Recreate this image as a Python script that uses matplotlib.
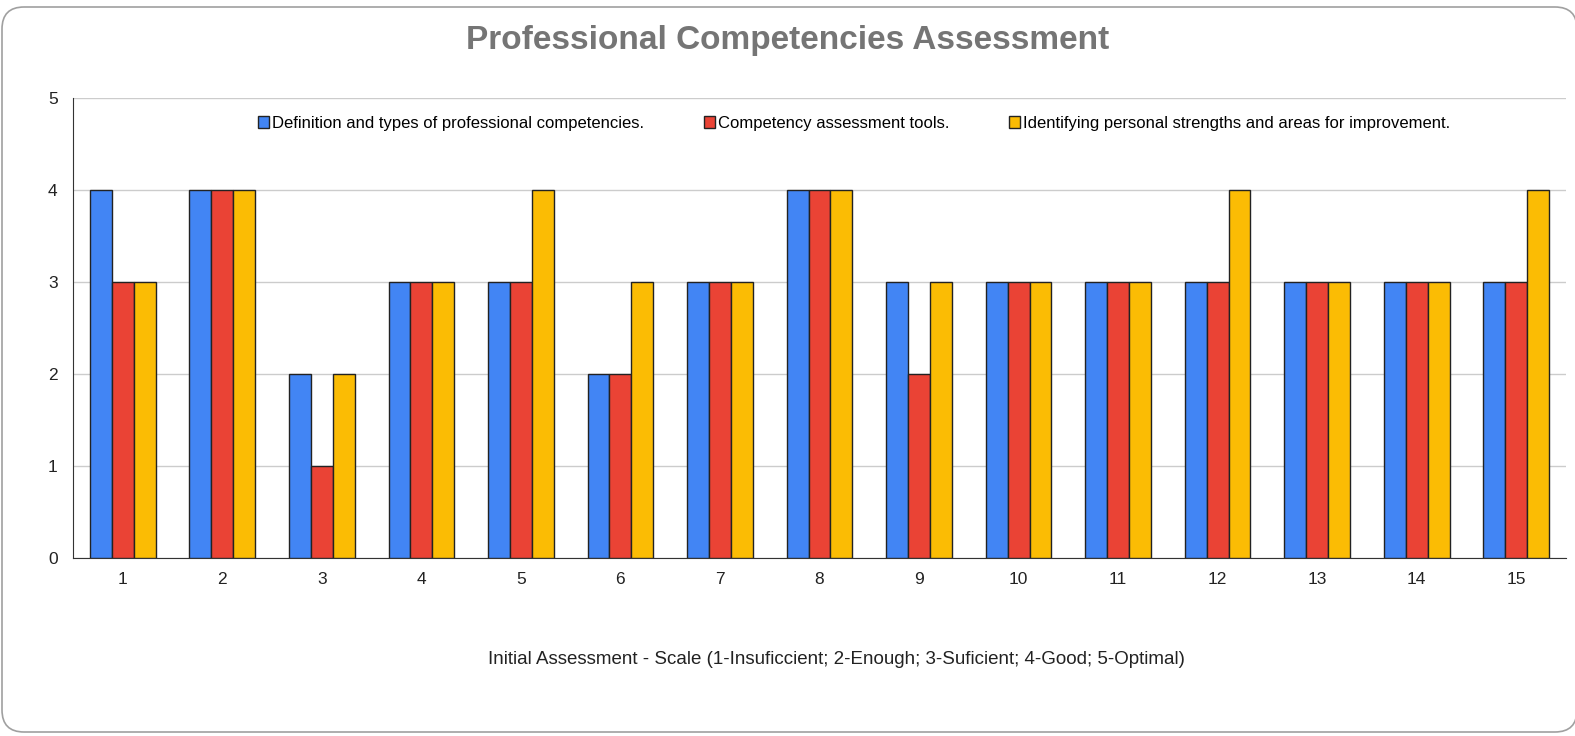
import matplotlib.pyplot as plt
import numpy as np
from matplotlib.patches import FancyBboxPatch

plt.rcParams["font.family"] = ["Liberation Sans", "DejaVu Sans"]

CATEGORIES = [str(i) for i in range(1, 16)]
SERIES_NAMES = [
    "Definition and types of professional competencies.",
    "Competency assessment tools.",
    "Identifying personal strengths and areas for improvement.",
]
DEFINITION = [4, 4, 2, 3, 3, 2, 3, 4, 3, 3, 3, 3, 3, 3, 3]
TOOLS = [3, 4, 1, 3, 3, 2, 3, 4, 2, 3, 3, 3, 3, 3, 3]
STRENGTHS = [3, 4, 2, 3, 4, 3, 3, 4, 3, 3, 3, 4, 3, 3, 4]
COLORS = ["#4285F4", "#EA4335", "#FBBC04"]

W, H = 1575, 736
fig = plt.figure(figsize=(W / 100, H / 100), dpi=100)

# rounded frame around the whole chart (right edge runs off the canvas)
frame = FancyBboxPatch(
    (2 / W, 4 / H), 1.0, (729 / H) - (4 / H),
    boxstyle="round,pad=0,rounding_size=0.014",
    transform=fig.transFigure, facecolor="white", edgecolor="#a0a0a0",
    linewidth=1.2, mutation_aspect=W / H, zorder=-10,
)
fig.patches.append(frame)

ax = fig.add_axes([73 / W, 1 - 558 / H, (1566 - 73) / W, (558 - 98) / H])
ax.set_facecolor("none")
ax.set_zorder(5)

x = np.arange(len(CATEGORIES))
width = 0.22
for i, (vals, name, color) in enumerate(zip([DEFINITION, TOOLS, STRENGTHS], SERIES_NAMES, COLORS)):
    ax.bar(x + (i - 1) * width, vals, width, color=color, edgecolor="#222222",
           linewidth=1.0, label=name, zorder=3)

ax.set_xlim(-0.5, len(CATEGORIES) - 0.5)
ax.set_ylim(0, 5)
ax.set_yticks(range(6))
ax.set_xticks(x)
ax.set_xticklabels(CATEGORIES)
ax.tick_params(axis="both", length=0, labelsize=12.5, colors="#222222")
ax.tick_params(axis="y", pad=11)
ax.tick_params(axis="x", pad=10)
ax.grid(axis="y", color="#cccccc", linewidth=1.0, zorder=0)
for side in ["top", "right"]:
    ax.spines[side].set_visible(False)
ax.spines["left"].set_color("#333333")
ax.spines["bottom"].set_color("#333333")

ax.legend(loc="upper center", bbox_to_anchor=(0.523, 0.99), ncol=3, frameon=False,
          fontsize=12, handlelength=0.68, handleheight=0.68, handletextpad=0.15,
          columnspacing=3.6, borderpad=0.3)

fig.text(0.5, 1 - 40 / H, "Professional Competencies Assessment", ha="center", va="center",
         fontsize=24, fontweight="bold", color="#757575")
fig.text(836 / W, 1 - 660 / H,
         "Initial Assessment - Scale (1-Insuficcient; 2-Enough; 3-Suficient; 4-Good; 5-Optimal)",
         ha="center", va="center", fontsize=13.5, color="#222222")

fig.savefig("out.png", dpi=100)
